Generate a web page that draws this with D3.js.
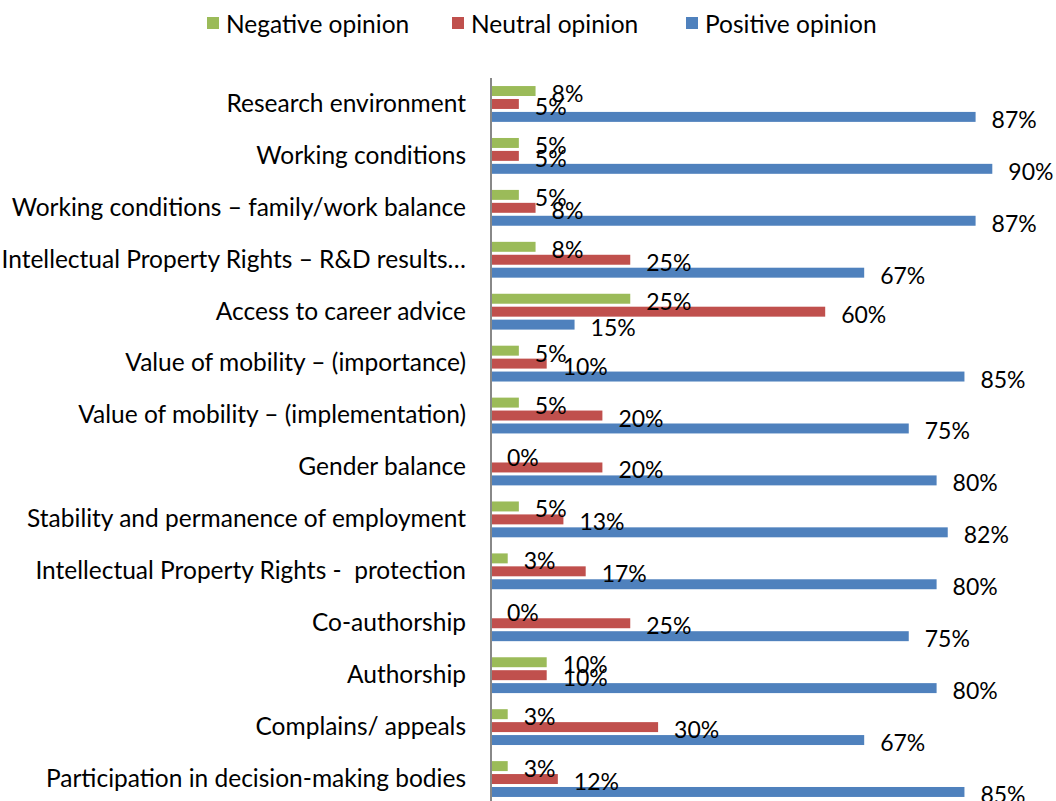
<!DOCTYPE html>
<html>
<head>
<meta charset="utf-8">
<script src="https://cdn.jsdelivr.net/npm/d3@7"></script>
<style>
  body { margin: 0; background: #ffffff; }
  text { font-family: Lato, "Open Sans", sans-serif; fill: #000000; white-space: pre; }
</style>
</head>
<body>
<div id="plot"></div>
<script>
var width = 1056;
var height = 801;

var categories = [
    'Research environment',
    'Working conditions',
    'Working conditions \u2013 family/work balance',
    'Intellectual Property Rights \u2013 R&D results\u2026',
    'Access to career advice',
    'Value of mobility \u2013 (importance)',
    'Value of mobility \u2013 (implementation)',
    'Gender balance',
    'Stability and permanence of employment',
    'Intellectual Property Rights -  protection',
    'Co-authorship',
    'Authorship',
    'Complains/ appeals',
    'Participation in decision-making bodies'
];
var series = ['Negative opinion', 'Neutral opinion', 'Positive opinion'];
var negative = [8, 5, 5, 8, 25, 5, 5, 0, 5, 3, 0, 10, 3, 3];
var neutral  = [5, 5, 8, 25, 60, 10, 20, 20, 13, 17, 25, 10, 30, 12];
var positive = [87, 90, 87, 67, 15, 85, 75, 80, 82, 80, 75, 80, 67, 85];
var colors = ['#9BBB59', '#C0504D', '#4F81BD'];

var values = [negative, neutral, positive];
var label_size = 24.5;
var value_size = 23;

var canvas = d3.select('#plot')
    .append('svg')
    .attr('width', width)
    .attr('height', height);

var plot_left = 491;
var plot_right = 1048;
var plot_top = 78;
var plot_bottom = 805;

var x = d3.scaleLinear()
    .domain([0, 100])
    .range([plot_left, plot_right]);

var y = d3.scaleBand()
    .domain(categories)
    .range([plot_top, plot_bottom])
    .paddingInner(0.31)
    .paddingOuter(0.155);

var y_sub = d3.scaleBand()
    .domain(series)
    .range([0, y.bandwidth()])
    .paddingInner(0.23);

// flatten into rows
var rows = [];
categories.forEach(function(c, i) {
    series.forEach(function(s, j) {
        rows.push({ category: c, series: s, value: values[j][i], color: colors[j] });
    });
});

// bars
canvas.selectAll('rect.bar')
    .data(rows)
    .enter()
    .append('rect')
    .attr('class', 'bar')
    .attr('x', x(0))
    .attr('y', function(d) { return y(d.category) + y_sub(d.series); })
    .attr('width', function(d) { return x(d.value) - x(0); })
    .attr('height', y_sub.bandwidth())
    .attr('fill', function(d) { return d.color; });

// value labels
canvas.selectAll('text.value')
    .data(rows)
    .enter()
    .append('text')
    .attr('class', 'value')
    .attr('x', function(d) { return x(d.value) + 16; })
    .attr('y', function(d) { return y(d.category) + y_sub(d.series) + y_sub.bandwidth() / 2 + 2; })
    .attr('dominant-baseline', 'central')
    .attr('font-size', value_size)
    .text(function(d) { return d.value + '%'; });

// category axis
var axis = d3.axisLeft(y).tickSize(0).tickPadding(25);
var g_axis = canvas.append('g')
    .attr('transform', 'translate(' + plot_left + ',0)')
    .call(axis);
g_axis.select('.domain')
    .attr('d', 'M0,' + plot_top + 'V' + plot_bottom)
    .attr('stroke', '#888888')
    .attr('stroke-width', 2);
g_axis.selectAll('.tick text')
    .attr('font-size', label_size)
    .attr('font-family', 'Lato, "Open Sans", sans-serif')
    .attr('fill', '#000000')
    .attr('dy', '0.32em');

// legend
var legend_x = [207, 452, 686];
var legend = canvas.selectAll('g.legend')
    .data(series)
    .enter()
    .append('g')
    .attr('class', 'legend')
    .attr('transform', function(d, i) { return 'translate(' + legend_x[i] + ',17)'; });
legend.append('rect')
    .attr('width', 12)
    .attr('height', 12)
    .attr('fill', function(d, i) { return colors[i]; });
legend.append('text')
    .attr('x', 19)
    .attr('y', 6)
    .attr('dominant-baseline', 'central')
    .attr('font-size', label_size)
    .text(function(d) { return d; });
</script>
</body>
</html>
